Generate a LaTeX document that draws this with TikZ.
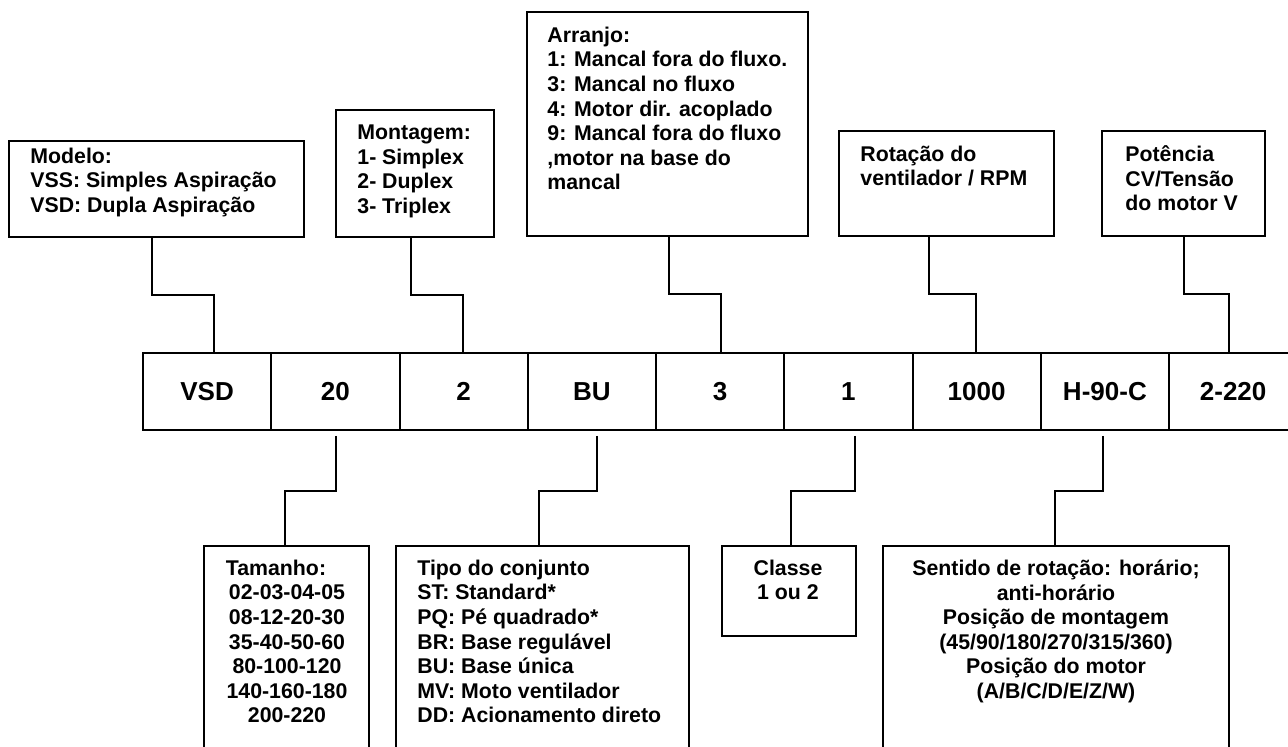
\documentclass[tikz,border=0pt]{standalone}
\usepackage{fontspec}
\setmainfont{Liberation Sans}
\usetikzlibrary{calc}
\begin{document}
\begin{tikzpicture}[x=0.5pt, y=-0.5pt,
  box/.style={draw, line width=1pt, inner sep=0pt, outer sep=0pt, anchor=north west, rectangle},
  txt/.style={inner sep=0pt, font=\fontsize{10.65pt}{12.3pt}\selectfont\bfseries},
  cell/.style={box, minimum width=64.125pt, minimum height=38.5pt, font=\fontsize{13pt}{15pt}\selectfont\bfseries},
  link/.style={line width=1pt}]
\useasboundingbox (0,0) rectangle (1288,747);
\clip (0,0) rectangle (1288,747);

% top boxes
\node[box, minimum width=147.5pt, minimum height=48pt] (modelo) at (9,141) {};
\node[txt, anchor=north west, align=left] (modelot) at (30,147.5) {Modelo:\\VSS: Simples Aspiração\\VSD: Dupla Aspiração};

\node[box, minimum width=79pt, minimum height=63.5pt] (montagem) at (336,110) {};
\node[txt, anchor=north west, align=left] (montagemt) at (357,124.5) {Montagem:\\1- Simplex\\2- Duplex\\3- Triplex};

\node[box, minimum width=140.5pt, minimum height=112pt] (arranjo) at (527,12) {};
\node[txt, anchor=north west, align=left] (arranjot) at (547,26.5) {Arranjo:\\1: Mancal fora do fluxo.\\3: Mancal no fluxo\\4: Motor dir. acoplado\\9: Mancal fora do fluxo\\,motor na base do\\mancal};

\node[box, minimum width=107.5pt, minimum height=52.5pt] (rotacao) at (839,131) {};
\node[txt, anchor=north west, align=left] (rotacaot) at (860,145.5) {Rotação do\\ventilador / RPM};

\node[box, minimum width=81.5pt, minimum height=52.5pt] (potencia) at (1102,131) {};
\node[txt, anchor=north west, align=left] (potenciat) at (1125,145.5) {Potência\\CV/Tensão\\do motor V};

% code row
\foreach \t [count=\i] in {VSD,20,2,BU,3,1,1000,H-90-C,2-220}
  \node[cell] (c\i) at ({143+(\i-1)*128.25},353) {\t};

% top connectors
\coordinate (a1) at (152,295); \coordinate (a2) at (214,295);
\draw[link] (modelo.south -| a1) -- (a1) -- (a2) -- (a2 |- c1.north);
\coordinate (a3) at (411,295); \coordinate (a4) at (463,295);
\draw[link] (montagem.south -| a3) -- (a3) -- (a4) -- (a4 |- c3.north);
\coordinate (a5) at (669,294); \coordinate (a6) at (721,294);
\draw[link] (arranjo.south -| a5) -- (a5) -- (a6) -- (a6 |- c5.north);
\coordinate (a7) at (929,294); \coordinate (a8) at (976,294);
\draw[link] (rotacao.south -| a7) -- (a7) -- (a8) -- (a8 |- c7.north);
\coordinate (a9) at (1184,294); \coordinate (a10) at (1229,294);
\draw[link] (potencia.south -| a9) -- (a9) -- (a10) -- (a10 |- c9.north);

% bottom boxes
\node[box, minimum width=82.5pt, minimum height=110pt] (tamanho) at (204,546) {};
\node[txt, anchor=north, align=center] (tamanhot) at (287,559.5) {Tamanho:\hspace*{11pt}\\02-03-04-05\\08-12-20-30\\35-40-50-60\\80-100-120\\140-160-180\\200-220};

\node[box, minimum width=146.5pt, minimum height=110pt] (tipo) at (396,546) {};
\node[txt, anchor=north west, align=left] (tipot) at (417,559.5) {Tipo do conjunto\\ST: Standard*\\PQ: Pé quadrado*\\BR: Base regulável\\BU: Base única\\MV: Moto ventilador\\DD: Acionamento direto};

\node[box, minimum width=67pt, minimum height=45pt] (classe) at (722,546) {};
\node[txt, anchor=north, align=center] (classet) at (788,559.5) {Classe\\1 ou 2};

\node[box, minimum width=173pt, minimum height=110pt] (sentido) at (883,546) {};
\node[txt, anchor=north, align=center] (sentidot) at (1056,559.5) {Sentido de rotação: horário;\\anti-horário\\Posição de montagem\\(45/90/180/270/315/360)\\Posição do motor\\(A/B/C/D/E/Z/W)};

% bottom connectors
\coordinate (b1) at (336,491); \coordinate (b2) at (285,491);
\draw[link] ($(c2.south -| b1)+(0,6)$) -- (b1) -- (b2) -- (b2 |- tamanho.north);
\coordinate (b3) at (597,491); \coordinate (b4) at (539,491);
\draw[link] ($(c4.south -| b3)+(0,6)$) -- (b3) -- (b4) -- (b4 |- tipo.north);
\coordinate (b5) at (855,491); \coordinate (b6) at (791,491);
\draw[link] ($(c6.south -| b5)+(0,6)$) -- (b5) -- (b6) -- (b6 |- classe.north);
\coordinate (b7) at (1103,491); \coordinate (b8) at (1055,491);
\draw[link] ($(c8.south -| b7)+(0,6)$) -- (b7) -- (b8) -- (b8 |- sentido.north);
\end{tikzpicture}
\end{document}
